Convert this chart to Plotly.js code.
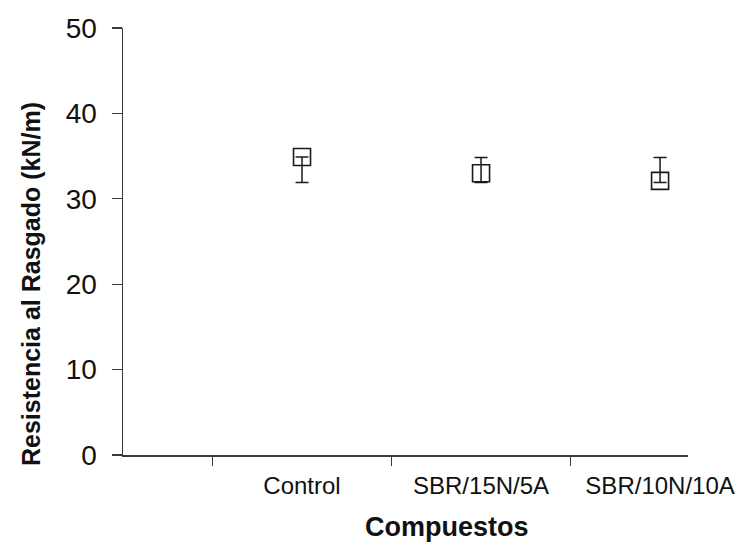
<!DOCTYPE html>
<html>
<head>
<meta charset="utf-8">
<script src="https://cdn.plot.ly/plotly-3.0.1.min.js"></script>
<style>html,body{margin:0;padding:0;background:#fff;}#chart{width:742px;height:546px;}</style>
</head>
<body>
<div id="chart"></div>
<script>
const categories = ["Control", "SBR/15N/5A", "SBR/10N/10A"];
const tearStrength = [34.9, 33.0, 32.1];
const errorUpper = [0, 1.85, 2.75];
const errorLower = [3.0, 1.1, 0.2];
const yTickValues = [0, 10, 20, 30, 40, 50];
const xTitle = "Compuestos";
const yTitle = "Resistencia al Rasgado (kN/m)";

const font = "Liberation Sans, Arial, sans-serif";
const ink = "#111111";
const axisColor = "#3a3a3a";

const trace = {
  type: "scatter",
  mode: "markers",
  x: categories,
  y: tearStrength,
  marker: {symbol: "square-open", size: 17, color: "#1a1a1a", line: {width: 1.6, color: "#1a1a1a"}},
  error_y: {
    type: "data", symmetric: false,
    array: errorUpper, arrayminus: errorLower,
    color: "#1a1a1a", thickness: 1.5, width: 6.5
  },
  showlegend: false,
  hoverinfo: "x+y"
};

const layout = {
  width: 742, height: 546,
  margin: {l: 123, r: 54, t: 28, b: 91},
  paper_bgcolor: "#ffffff", plot_bgcolor: "#ffffff",
  font: {family: font, color: ink},
  xaxis: {
    type: "category",
    categoryorder: "array", categoryarray: categories,
    range: [-1, 2.156],
    tickson: "boundaries",
    ticks: "outside", ticklen: 9, tickwidth: 1.3, tickcolor: axisColor,
    showline: true, linecolor: axisColor, linewidth: 1.5,
    showgrid: false, zeroline: false,
    tickfont: {family: font, size: 24, color: ink},
    ticklabelstandoff: 9
  },
  yaxis: {
    range: [0, 50],
    tickvals: yTickValues,
    ticks: "outside", ticklen: 10, tickwidth: 1.3, tickcolor: axisColor,
    showline: true, linecolor: axisColor, linewidth: 1.5,
    showgrid: false, zeroline: false,
    tickfont: {family: font, size: 28, color: ink},
    ticklabelstandoff: 9
  },
  annotations: [
    {text: "<b>" + xTitle + "</b>", xref: "paper", yref: "paper",
     x: (447 - 123) / (742 - 123 - 54), y: -(527 - 455) / (546 - 28 - 91),
     xanchor: "center", yanchor: "middle", showarrow: false,
     font: {family: font, size: 27, color: ink}},
    {text: "<b>" + yTitle + "</b>", xref: "paper", yref: "paper",
     x: -(123 - 31) / (742 - 123 - 54), y: (455 - 284) / (546 - 28 - 91),
     xanchor: "center", yanchor: "middle", textangle: -90, showarrow: false,
     font: {family: font, size: 25, color: ink}}
  ]
};

Plotly.newPlot("chart", [trace], layout, {displayModeBar: false, staticPlot: true});
</script>
</body>
</html>
